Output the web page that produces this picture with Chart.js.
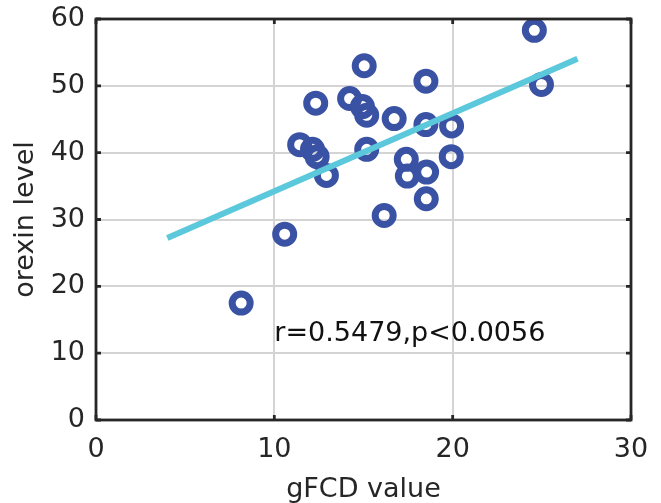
<!DOCTYPE html>
<html>
<head>
<meta charset="utf-8">
<script src="https://cdn.jsdelivr.net/npm/chart.js@4.4.1/dist/chart.umd.min.js"></script>
<style>
  html, body { margin: 0; padding: 0; background: #fff; }
  #wrap { width: 661px; height: 503px; }
</style>
</head>
<body>
<div id="wrap"><canvas id="chart" width="661" height="503"></canvas></div>
<script>
/*** data ***/
const gfcd   = [24.58, 15.04, 18.50, 24.98, 12.32, 14.22, 14.94, 15.18, 16.72, 18.50, 19.94, 11.42,
                12.14, 12.40, 15.18, 17.40, 19.92, 12.92, 17.46, 18.54, 18.52, 16.16, 10.58, 8.14];
const orexin = [58.3, 53.0, 50.7, 50.2, 47.4, 48.1, 46.9, 45.6, 45.1, 44.2, 44.0, 41.2,
                40.5, 39.4, 40.5, 39.0, 39.4, 36.6, 36.5, 37.1, 33.1, 30.6, 27.8, 17.5];
const fitX = [4.0, 27.0];
const fitY = [27.25, 54.07];
const xTicks = [0, 10, 20, 30];
const yTicks = [0, 10, 20, 30, 40, 50, 60];
const statText = 'r=0.5479,p<0.0056';
const statAt = [10.0, 11.8];

const FONT = 'DejaVu Sans';
const INK = '#262626';

const points = gfcd.map((v, i) => ({ x: v, y: orexin[i] }));
const fitLine = fitX.map((v, i) => ({ x: v, y: fitY[i] }));

/*** frame, inward ticks and r/p text ***/
const framePlugin = {
    id: 'frame',
    afterDatasetsDraw(chart) {
        const { ctx, scales: { x, y } } = chart;
        ctx.save();
        ctx.fillStyle = '#111';
        ctx.font = '27px "' + FONT + '"';
        ctx.textAlign = 'left';
        ctx.textBaseline = 'alphabetic';
        ctx.fillText(statText, x.getPixelForValue(statAt[0]), y.getPixelForValue(statAt[1]));
        ctx.restore();
    },
    afterDraw(chart) {
        const { ctx, chartArea: a, scales: { x, y } } = chart;
        ctx.save();
        ctx.strokeStyle = INK;
        ctx.lineWidth = 2.8;
        ctx.beginPath();
        xTicks.forEach(t => {
            const px = x.getPixelForValue(t);
            ctx.moveTo(px, a.bottom); ctx.lineTo(px, a.bottom - 5);
            ctx.moveTo(px, a.top); ctx.lineTo(px, a.top + 5);
        });
        yTicks.forEach(t => {
            const py = y.getPixelForValue(t);
            ctx.moveTo(a.left, py); ctx.lineTo(a.left + 5, py);
            ctx.moveTo(a.right, py); ctx.lineTo(a.right - 5, py);
        });
        ctx.stroke();
        ctx.strokeRect(a.left, a.top, a.right - a.left, a.bottom - a.top);
        ctx.restore();
    }
};

const ctx = document.getElementById('chart').getContext('2d');
const chart = new Chart(ctx, {
    type: 'scatter',
    data: {
        datasets: [
            {
                label: 'fit',
                data: fitLine,
                showLine: true,
                borderColor: '#5BC8DB',
                borderWidth: 6,
                pointRadius: 0,
                order: 0
            },
            {
                label: 'subjects',
                data: points,
                pointStyle: 'circle',
                pointRadius: 9,
                pointHoverRadius: 9,
                pointBorderWidth: 7,
                pointBackgroundColor: 'rgba(0,0,0,0)',
                borderColor: '#3A52A4',
                order: 1
            }
        ]
    },
    options: {
        responsive: false,
        animation: false,
        layout: {
            padding: { top: 19, right: 30, left: 0, bottom: 0 }
        },
        plugins: {
            legend: { display: false },
            tooltip: { enabled: false }
        },
        scales: {
            x: {
                type: 'linear',
                min: 0,
                max: 30,
                afterFit: s => { s.height = 83; s.paddingLeft = 0; s.paddingRight = 0; },
                afterBuildTicks: s => { s.ticks = xTicks.map(v => ({ value: v })); },
                grid: { color: '#d4d4d4', lineWidth: 2, drawTicks: false },
                border: { display: false },
                ticks: { color: INK, font: { family: FONT, size: 27 }, padding: 14, maxRotation: 0 },
                title: {
                    display: true,
                    text: 'gFCD value',
                    color: INK,
                    font: { family: FONT, size: 27 },
                    padding: { top: 0, bottom: -3 }
                }
            },
            y: {
                type: 'linear',
                min: 0,
                max: 60,
                afterFit: s => { s.width = 96; s.paddingTop = 0; s.paddingBottom = 0; },
                afterBuildTicks: s => { s.ticks = yTicks.map(v => ({ value: v })); },
                grid: { color: '#d4d4d4', lineWidth: 2, drawTicks: false },
                border: { display: false },
                ticks: { color: INK, font: { family: FONT, size: 27 }, padding: 11 },
                title: {
                    display: true,
                    text: 'orexin level',
                    color: INK,
                    font: { family: FONT, size: 27 },
                    padding: { top: 10, bottom: 0 }
                }
            }
        }
    },
    plugins: [framePlugin]
});
</script>
</body>
</html>
